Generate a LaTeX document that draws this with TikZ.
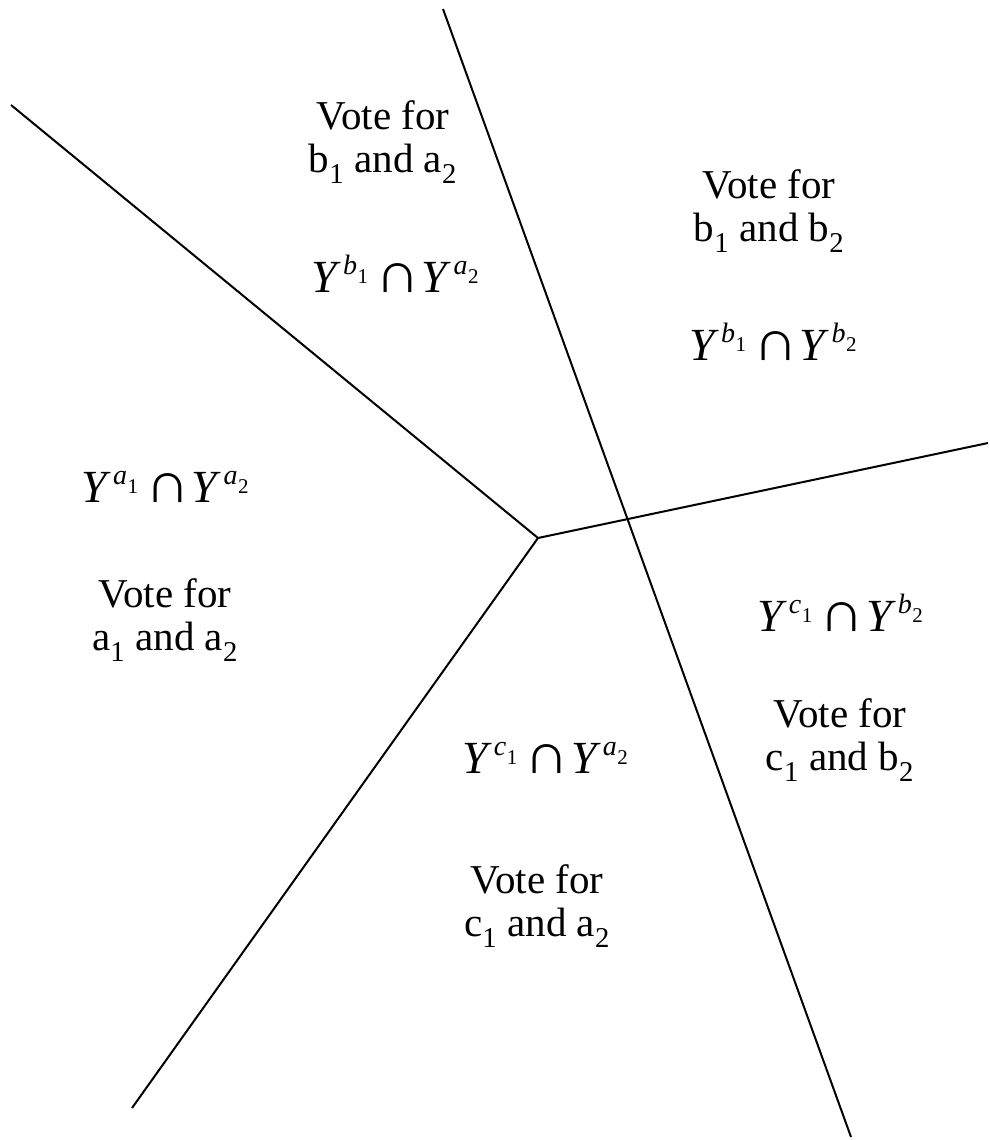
\documentclass[tikz,border=0pt]{standalone}
\usepackage{fontspec}
\setmainfont{Liberation Serif}
\usetikzlibrary{positioning}

\newcommand{\Ysup}[2]{\textit{Y}\hspace{2pt}\raisebox{18pt}{\fontsize{28}{28}\selectfont\textit{#1}\hspace{0.5pt}\raisebox{-9pt}{\fontsize{21}{21}\selectfont #2}}}
\newcommand{\Ycap}[4]{{\rmfamily\fontsize{46}{46}\selectfont\Ysup{#1}{#2}\hspace{7pt}\scalebox{1.35}[1.25]{∩}\hspace{2pt}\Ysup{#3}{#4}}}

\begin{document}
\begin{tikzpicture}[x=1pt,y=-1pt,line width=2pt]
  \tikzset{vote/.style={align=center,inner sep=0pt,font=\rmfamily\fontsize{41}{43}\selectfont},
           sets/.style={inner sep=0pt}}
  \useasboundingbox (0,0) rectangle (989,1140);
  % boundaries
  \coordinate (o) at (538,538);
  \coordinate (nw) at (11,105);
  \coordinate (sw) at (132,1108);
  \coordinate (e) at (988,443);
  \coordinate (n) at (443,9);
  \coordinate (s) at (851,1137);
  \draw (nw)--(o);
  \draw (o)--(sw);
  \draw (o)--(e);
  \draw (n)--(s);
  % regions
  \node[vote] (v1) at (383,142) {Vote for\\b\textsubscript{1} and a\textsubscript{2}};
  \node[sets] (y1) at (395,274) {\Ycap{b}{1}{a}{2}};
  \node[vote] (v2) at (769,211) {Vote for\\b\textsubscript{1} and b\textsubscript{2}};
  \node[sets] (y2) at (773,342) {\Ycap{b}{1}{b}{2}};
  \node[sets] (y3) at (165,487) {\Ycap{a}{1}{a}{2}};
  \node[vote] (v3) at (165,620) {Vote for\\a\textsubscript{1} and a\textsubscript{2}};
  \node[sets] (y4) at (840,613) {\Ycap{c}{1}{b}{2}};
  \node[vote] (v4) at (840,740) {Vote for\\c\textsubscript{1} and b\textsubscript{2}};
  \node[sets] (y5) at (545,758) {\Ycap{c}{1}{a}{2}};
  \node[vote] (v5) at (537,906) {Vote for\\c\textsubscript{1} and a\textsubscript{2}};
\end{tikzpicture}
\end{document}
